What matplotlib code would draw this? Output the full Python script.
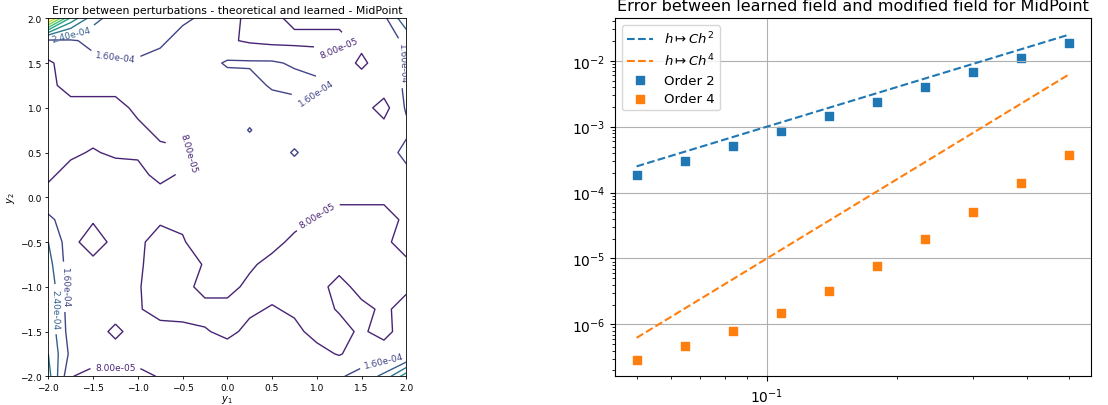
import matplotlib.pyplot as plt
import numpy as np

# ---- left panel: perturbation error on the (y1, y2) grid ----
y1_grid = [-2.0, -1.75, -1.5, -1.25, -1.0, -0.75, -0.5, -0.25, 0.0,
           0.25, 0.5, 0.75, 1.0, 1.25, 1.5, 1.75, 2.0]
y2_grid = [2.0, 1.75, 1.5, 1.25, 1.0, 0.75, 0.5, 0.25, 0.0,
           -0.25, -0.5, -0.75, -1.0, -1.25, -1.5, -1.75, -2.0]

# error in units of 1e-5, one row per y2 value (top row is y2 = 2)
err_rows = [
    [85, 46, 27, 20, 19, 18, 17, 15, 11, 6, 6, 10, 10, 10, 11, 14, 30],
    [14, 15, 18, 19, 19, 17, 14, 12, 9, 7, 6, 6, 6, 6, 10, 11, 18],
    [7, 11, 14, 15, 15, 14, 12, 13, 17, 17, 17, 15, 13, 12, 6.5, 12, 17],
    [6, 11, 11, 11, 11, 11, 11, 11, 12, 13, 17, 19, 18, 13, 12, 12, 17],
    [6, 5, 5, 5, 10, 11, 11, 11, 11, 12, 12, 12, 12, 11, 11, 5, 17],
    [6, 6, 6, 6, 6, 10, 11, 11, 11, 16.5, 11, 11, 11, 11, 11, 11, 14],
    [6, 7, 8.5, 7, 7, 6, 7, 11, 11, 11, 11, 17, 11, 11, 11, 11, 19],
    [7, 10, 10, 11, 10, 6, 9, 11, 11, 11, 11, 11, 11, 11, 11, 11, 13],
    [10, 11, 11, 11, 11, 11, 11, 11, 11, 11, 11, 11, 10, 9, 9, 9, 9],
    [18, 11, 9, 11, 11, 9, 9, 11, 11, 11, 11, 10, 7.5, 6, 6, 6, 9],
    [24, 11, 3, 11, 9.5, 5, 7.5, 11, 11, 11, 10, 6.5, 6, 6, 6, 7, 10],
    [27, 11, 11, 11, 9, 5, 5, 8.5, 11, 9, 6, 5, 5, 6, 6, 6, 7],
    [30, 11, 11, 11, 8.5, 5, 6, 10, 10, 6.5, 6, 6, 6, 10, 6, 6, 7],
    [30, 11, 11, 11, 8.5, 6, 6, 6, 6, 7, 8.5, 7, 6, 8.5, 9.5, 7, 10],
    [30, 12, 11, 6.5, 11, 10, 9.5, 8.5, 6.5, 9.5, 11, 9.5, 6, 6, 9, 5.5, 12],
    [32, 14, 11, 11, 11, 11, 11, 11, 11, 11, 11, 11, 10, 7.5, 11, 12, 12],
    [35, 8.3, 6, 6, 6, 8.5, 11, 11, 11, 11, 11, 11, 12, 15, 19, 26, 45],
]
level_step = 8e-5
n_levels = 11   # 0 ... 8e-4

# ---- right panel: convergence of the learned field ----
h = [0.05, 0.0646, 0.0834, 0.1077, 0.1391, 0.1797, 0.2321, 0.2997, 0.3871, 0.5]
err_order2 = [1.85e-4, 3.05e-4, 5.1e-4, 8.5e-4, 1.43e-3, 2.39e-3, 3.99e-3,
              6.65e-3, 1.11e-2, 1.85e-2]
err_order4 = [2.88e-7, 4.65e-7, 7.83e-7, 1.5e-6, 3.23e-6, 7.73e-6, 1.96e-5,
              5.15e-5, 1.38e-4, 3.76e-4]
C = 0.1

fig = plt.figure(figsize=(11.08, 4.06), dpi=100)

# contour map
ax1 = fig.add_axes([0.0436, 0.0707, 0.3231, 0.8818])
Z = np.array(err_rows) * 1e-5
levels = level_step * np.arange(n_levels)
cs = ax1.contour(y1_grid, y2_grid, Z, levels=levels, cmap='viridis', linewidths=1.0)
ax1.clabel(cs, inline=True, fontsize=6.5, fmt='%.2e')
ax1.set_xlim(-2, 2)
ax1.set_ylim(-2, 2)
ax1.set_xticks(np.arange(-2, 2.01, 0.5))
ax1.set_yticks(np.arange(-2, 2.01, 0.5))
ax1.tick_params(labelsize=6.5, length=2.5, width=0.6, pad=2)
for sp in ax1.spines.values():
    sp.set_linewidth(0.6)
ax1.set_xlabel('$y_1$', fontsize=7, labelpad=1)
ax1.set_ylabel('$y_2$', fontsize=7, labelpad=2)
ax1.set_title('Error between perturbations - theoretical and learned - MidPoint',
              fontsize=7.8, pad=4)

# log-log convergence
ax2 = fig.add_axes([0.555, 0.0707, 0.4296, 0.8818])
h_arr = np.array(h)
ax2.loglog(h_arr, C * h_arr**2, '--', color='C0', lw=1.5, label=r'$h\mapsto Ch^2$')
ax2.loglog(h_arr, C * h_arr**4, '--', color='C1', lw=1.5, label=r'$h\mapsto Ch^4$')
ax2.scatter(h, err_order2, marker='s', s=40, color='C0', label='Order 2')
ax2.scatter(h, err_order4, marker='s', s=40, color='C1', label='Order 4')
ax2.grid(True, which='major')
ax2.legend(loc='upper left', fontsize=9.5, labelspacing=0.4)
ax2.set_title('Error between learned field and modified field for MidPoint', fontsize=11.5)

fig.savefig('out.png', dpi=100)
